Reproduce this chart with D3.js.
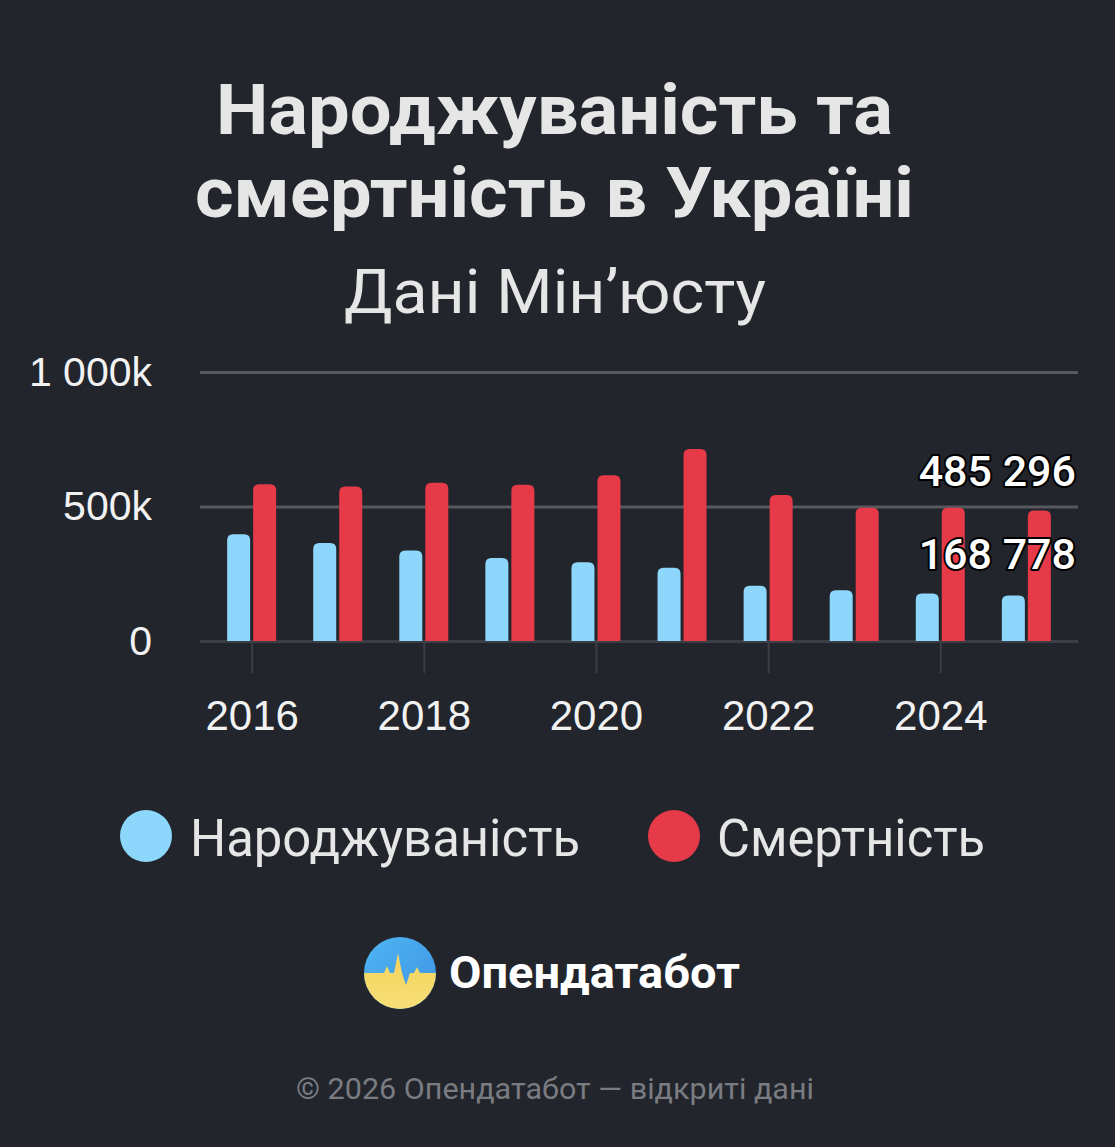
<!DOCTYPE html>
<html><head><meta charset="utf-8">
<script src="https://cdn.jsdelivr.net/npm/d3@7"></script>
<style>
html,body{margin:0;padding:0;background:#22252c;}
svg{display:block;font-family:Roboto,"Noto Sans",sans-serif;}
</style></head>
<body>
<svg id="chart" width="1115" height="1147"></svg>
<script>
// ---- data ----
const years = [2016, 2017, 2018, 2019, 2020, 2021, 2022, 2023, 2024, 2025];
const births = [397000, 364000, 336000, 309000, 293000, 272000, 205000, 189000, 177000, 168778];
const deaths = [583000, 574000, 588000, 581000, 616000, 714000, 543000, 495000, 495000, 485296];
const seriesNames = ["Народжуваність", "Смертність"];
const xTickValues = [2016, 2018, 2020, 2022, 2024];
const yTickValues = [0, 500000, 1000000];
const titleLines = ["Народжуваність та", "смертність в Україні"];
const subtitle = "Дані Мін’юсту";
const brand = "Опендатабот";
const footer = "© 2026 Опендатабот — відкриті дані";

const colors = {bg:"#22252c", birth:"#8ed7fc", death:"#e63a48", text:"#e6e6e6", grid:"#57595f", zero:"#3b3e45"};

const svg = d3.select("#chart");
svg.append("rect").attr("width",1115).attr("height",1147).attr("fill",colors.bg);

// ---- titles ----
const tText = (txt, x, y, size, weight, fill, len) => {
  const t = svg.append("text").attr("x",x).attr("y",y).attr("text-anchor","middle")
    .attr("font-size",size).attr("font-weight",weight).attr("fill",fill).text(txt);
  if (len) t.attr("textLength",len).attr("lengthAdjust","spacingAndGlyphs");
  return t;
};
tText(titleLines[0], 554.5, 134, 71, 700, colors.text, 677);
tText(titleLines[1], 554.5, 217, 71, 700, colors.text, 719);
tText(subtitle, 555, 313, 62, 400, colors.text, 422);

// ---- scales ----
const x = d3.scaleLinear().domain([2015.4, 2025.6]).range([200, 1078]);
const y = d3.scaleLinear().domain([0, 1000000]).range([641, 372]);

// y axis / grid
const yAxis = d3.axisLeft(y).tickValues(yTickValues).tickSize(-878).tickPadding(48)
  .tickFormat(v => v === 0 ? "0" : d3.format(",")(v/1000).replace(/,/g," ") + "k");
const gy = svg.append("g").attr("transform","translate(200,0)").call(yAxis);
gy.select(".domain").remove();
gy.selectAll(".tick line").attr("stroke", d => d === 0 ? colors.zero : colors.grid).attr("stroke-width",3);
gy.selectAll(".tick text").attr("fill","#f2f2f2").attr("font-size",41).attr("dy","0.32em");

// x axis
const xAxis = d3.axisBottom(x).tickValues(xTickValues).tickFormat(d3.format("d")).tickSize(32).tickPadding(27);
const gx = svg.append("g").attr("transform","translate(0,641)").call(xAxis);
gx.select(".domain").remove();
gx.selectAll(".tick line").attr("stroke",colors.zero).attr("stroke-width",2);
gx.selectAll(".tick text").attr("fill","#f2f2f2").attr("font-size",42);

// ---- bars ----
const bw = 23, gap = 1.5, r = 6;
const topRounded = (x0, y0, w, h) => {
  const rr = Math.min(r, h);
  return `M${x0},${y0+h}V${y0+rr}Q${x0},${y0} ${x0+rr},${y0}H${x0+w-rr}Q${x0+w},${y0} ${x0+w},${y0+rr}V${y0+h}Z`;
};
const rows = years.map((yr,i) => ({yr, b:births[i], d:deaths[i]}));
svg.append("g").selectAll("path").data(rows).join("path")
  .attr("fill",colors.birth)
  .attr("d", d => topRounded(x(d.yr)-gap-bw, y(d.b), bw, y(0)-y(d.b)));
svg.append("g").selectAll("path").data(rows).join("path")
  .attr("fill",colors.death)
  .attr("d", d => topRounded(x(d.yr)+gap, y(d.d), bw, y(0)-y(d.d)));

// value labels for last year
const last = rows[rows.length-1];
const valFmt = v => d3.format(",")(v).replace(/,/g," ");
[[last.d, 486],[last.b, 569]].forEach(([v, yy]) => {
  svg.append("text").attr("x",1076).attr("y", yy).attr("text-anchor","end")
    .attr("font-size",43).attr("font-weight",500).attr("fill","#ffffff")
    .attr("stroke","#000").attr("stroke-width",4).attr("stroke-linejoin","round")
    .attr("paint-order","stroke").text(valFmt(v));
});

// ---- legend ----
const legend = [{name:seriesNames[0], c:colors.birth, cx:146, tx:190, len:390},
                {name:seriesNames[1], c:colors.death, cx:674, tx:717, len:268}];
legend.forEach(l => {
  svg.append("circle").attr("cx",l.cx).attr("cy",836).attr("r",26).attr("fill",l.c);
  svg.append("text").attr("x",l.tx).attr("y",856).attr("font-size",51).attr("fill",colors.text)
    .attr("textLength",l.len).attr("lengthAdjust","spacingAndGlyphs").text(l.name);
});

// ---- logo ----
const defs = svg.append("defs");
const lgB = defs.append("linearGradient").attr("id","gb").attr("x1",0).attr("y1",0).attr("x2",1).attr("y2",1);
lgB.append("stop").attr("offset","0%").attr("stop-color","#4fb8f5");
lgB.append("stop").attr("offset","100%").attr("stop-color","#3d8fe0");
const lgY = defs.append("linearGradient").attr("id","gy").attr("x1",0).attr("y1",0).attr("x2",0).attr("y2",1);
lgY.append("stop").attr("offset","0%").attr("stop-color","#f3d35a");
lgY.append("stop").attr("offset","100%").attr("stop-color","#f7e07a");
defs.append("clipPath").attr("id","lc").append("circle").attr("cx",400).attr("cy",973).attr("r",36);
const logo = svg.append("g").attr("clip-path","url(#lc)");
logo.append("rect").attr("x",360).attr("y",933).attr("width",80).attr("height",80).attr("fill","url(#gb)");
logo.append("path").attr("fill","url(#gy)")
  .attr("d","M360,973 L384,973 L387,966 L390,973 L394,973 L398,953 L402,973 L406,985 L410,973 L414,973 L417,967 L420,973 L440,973 L440,1013 L360,1013 Z");
svg.append("text").attr("x",449).attr("y",988).attr("font-size",45).attr("font-weight",700)
  .attr("fill","#ffffff").attr("textLength",291).attr("lengthAdjust","spacingAndGlyphs").text(brand);

// ---- footer ----
tText(footer, 555, 1099, 29, 400, "#7a7c82", 518);
</script>
</body></html>
